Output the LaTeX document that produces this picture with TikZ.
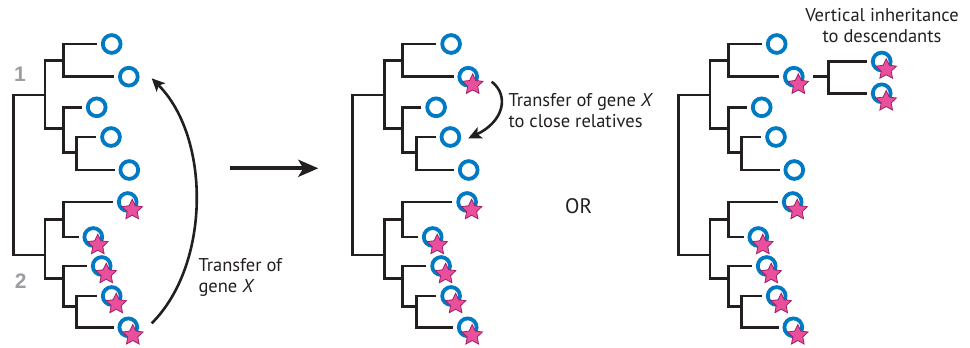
\documentclass[tikz,border=0pt]{standalone}
\usepackage{fontspec}
\setmainfont{PT Sans}
\newfontfamily\cladefont{Liberation Sans}
\usetikzlibrary{arrows.meta,shapes.geometric}

\definecolor{ink}{RGB}{35,31,32}
\definecolor{ringblue}{RGB}{0,122,194}
\definecolor{starpink}{RGB}{232,80,155}
\definecolor{starrim}{RGB}{160,30,105}
\definecolor{cladegray}{RGB}{155,157,160}

\tikzset{
  branch/.style={draw=ink, line width=2.8pt},
  ring/.style={circle, draw=ringblue, line width=3.8pt, minimum size=17.8pt,
    inner sep=0pt, outer sep=5.8pt},
  gstar/.style={star, star points=5, star point ratio=2.05, minimum size=21.5pt,
    inner sep=0pt, fill=starpink, draw=starrim, line width=0.8pt,
    xshift=4.5pt, yshift=-8pt},
  lbl/.style={font=\fontsize{18.5}{21}\selectfont, text=ink, inner sep=0pt},
  cladenum/.style={font=\cladefont\fontsize{21}{24}\selectfont\bfseries, text=cladegray,
    inner sep=0pt, anchor=base},
  transfer/.style={draw=ink, line width=2.6pt,
    -{Stealth[length=13pt,width=12pt,inset=3pt]}},
}

% One ten-leaf tree; leaves 6--10 carry gene X
\newcommand\genetree{%
  \node[ring] (l1)  at (111.7,44)    {};
  \node[ring] (l2)  at (128.8,76.7)  {};
  \node[ring] (l3)  at (96.7,107.3)  {};
  \node[ring] (l4)  at (111,137)     {};
  \node[ring] (l5)  at (129.3,170)   {};
  \node[ring] (l6)  at (127.7,202)   {};
  \node[ring] (l7)  at (93.3,237)    {};
  \node[ring] (l8)  at (101.7,266)   {};
  \node[ring] (l9)  at (111.7,296)   {};
  \node[ring] (l10) at (128.3,327.3) {};
  \coordinate (a1)   at (63.3,60.7);
  \coordinate (a2)   at (63.3,128.3);
  \coordinate (a2b)  at (76.7,152.7);
  \coordinate (a)    at (45,95);
  \coordinate (b1)   at (63.3,219.3);
  \coordinate (b2)   at (63.3,278.3);
  \coordinate (b2b)  at (76.7,306.7);
  \coordinate (b)    at (45,255);
  \coordinate (root) at (13.3,175);
  \draw[branch] (l1.west) -| (a1) |- (l2.west);
  \draw[branch] (l4.west) -| (a2b) |- (l5.west);
  \draw[branch] (l3.west) -| (a2) |- (a2b);
  \draw[branch] (a1) -| (a) |- (a2);
  \draw[branch] (l6.west) -| (b1) |- (l7.west);
  \draw[branch] (l9.west) -| (b2b) |- (l10.west);
  \draw[branch] (l8.west) -| (b2) |- (b2b);
  \draw[branch] (b1) -| (b) |- (b2);
  \draw[branch] (a) -| (root) |- (b);
  \node[gstar] (s6)  at (l6)  {};
  \node[gstar] (s7)  at (l7)  {};
  \node[gstar] (s8)  at (l8)  {};
  \node[gstar] (s9)  at (l9)  {};
  \node[gstar] (s10) at (l10) {};
}

\begin{document}
\begin{tikzpicture}[x=1pt, y=-1pt]
\useasboundingbox (0,0) rectangle (970,348);

% ---- tree before transfer ----
\begin{scope}[name prefix=p-]
  \genetree
  \node[cladenum] (n1) at (20,81.7)   {1};
  \node[cladenum] (n2) at (20.8,288.3) {2};
  \coordinate (hgtfrom) at (151.7,323.3);
  \coordinate (hgtto)   at (151.7,78.3);
  \draw[transfer] (hgtfrom) .. controls (210.7,264.6) and (210.7,137.4) .. (hgtto);
  \node[lbl, anchor=base west] (hgtlabel) at (198.3,271.7)
    {\begin{tabular}[t]{@{}l@{}}Transfer of\\gene \textit{X}\end{tabular}};
\end{scope}

% ---- arrow between stages ----
\coordinate (stepfrom) at (230,168.3);
\coordinate (stepto)   at (318.3,168.3);
\draw[draw=ink, line width=4pt, -{Stealth[length=20pt,width=17pt,inset=5pt]}]
  (stepfrom) -- (stepto);

% ---- outcome 1: spread to close relatives ----
\begin{scope}[xshift=339.4pt, name prefix=q-]
  \genetree
  \node[gstar] (s2) at (l2) {};
  \coordinate (relfrom) at (152.3,81.7);
  \coordinate (relto)   at (128.9,138.3);
  \draw[transfer] (relfrom) .. controls (170.6,96) and (163.6,122) .. (relto);
  \node[lbl, anchor=base west] (rellabel) at (168.9,106.7)
    {\begin{tabular}[t]{@{}l@{}}Transfer of gene \textit{X}\\to close relatives\end{tabular}};
\end{scope}

\node[font=\fontsize{21}{24}\selectfont, text=ink, inner sep=0pt, anchor=base west]
  (or) at (565,213.3) {OR};

% ---- outcome 2: vertical inheritance ----
\begin{scope}[xshift=665pt, name prefix=r-]
  \genetree
  \node[gstar] (s2) at (l2) {};
  \node[ring] (d1) at (216.7,61.5) {};
  \node[ring] (d2) at (216.7,93.3) {};
  \coordinate (dv) at (163.7,76.7);
  \coordinate (dstem) at (148.3,76.7);
  \draw[branch] (d1.west) -| (dv) |- (d2.west);
  \draw[branch] (dstem) -- (dv);
  \node[gstar] (ds1) at (d1) {};
  \node[gstar] (ds2) at (d2) {};
  \node[lbl, anchor=base] (vlabel) at (217,21.7)
    {\begin{tabular}[t]{@{}c@{}}Vertical inheritance\\to descendants\end{tabular}};
\end{scope}
\end{tikzpicture}
\end{document}
